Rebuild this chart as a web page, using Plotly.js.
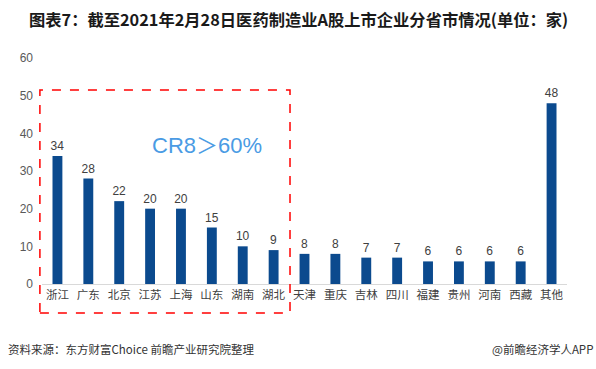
<!DOCTYPE html>
<html><head><meta charset="utf-8">
<script src="https://cdn.plot.ly/plotly-3.0.1.min.js"></script>
<style>html,body{margin:0;padding:0;background:#fff;}#chart{width:596px;height:369px;}</style>
</head><body><div id="chart"></div>
<script>
const provinces = ["浙江","广东","北京","江苏","上海","山东","湖南","湖北","天津","重庆","吉林","四川","福建","贵州","河南","西藏","其他"];
const companies = [34,28,22,20,20,15,10,9,8,8,7,7,6,6,6,6,48];
const yTicks = [0,10,20,30,40,50,60];
const cjk = '"Noto Sans CJK SC", "Noto Sans", sans-serif';

const trace = {
  type: 'bar', x: provinces, y: companies,
  marker: {color: '#0b4a8e'}, width: 0.32,
  text: companies.map(String), textposition: 'outside', constraintext: 'none',
  textfont: {family: 'Arial, "Liberation Sans", sans-serif', size: 12, color: '#404040'},
  cliponaxis: false, hoverinfo: 'skip'
};

const layout = {
  width: 596, height: 369,
  margin: {l: 42, r: 29, t: 58, b: 85},
  paper_bgcolor: '#fff', plot_bgcolor: '#fff',
  showlegend: false, bargap: 0.68,
  xaxis: {
    type: 'category', showgrid: false, showline: true, linecolor: '#d9d9d9', linewidth: 1,
    ticks: '', tickfont: {family: cjk, size: 11.5, color: '#404040'}, fixedrange: true
  },
  yaxis: {
    range: [0, 60], tickvals: yTicks, showgrid: false, zeroline: false, showline: false,
    ticks: '', ticklabelstandoff: 8,
    tickfont: {family: 'Arial, "Liberation Sans", sans-serif', size: 12, color: '#595959'}, fixedrange: true
  },
  shapes: [{
    type: 'rect', xref: 'paper', yref: 'paper', x0: -0.004, x1: 0.4724, y0: -0.128, y1: 0.858,
    line: {color: '#ff0000', width: 1.5, dash: 'dash'}, fillcolor: 'rgba(0,0,0,0)'
  }],
  annotations: [
    {text: '<b>图表7：截至2021年2月28日医药制造业A股上市企业分省市情况(单位：家)</b>', xref: 'paper', yref: 'paper',
     x: 0.5, xshift: -6, y: 1, yshift: 39, xanchor: 'center', yanchor: 'middle', showarrow: false,
     font: {family: cjk, size: 16.3, color: '#1a1a1a'}},
    {text: 'CR8＞60%', xref: 'x', yref: 'y', x: 4.85, y: 36.8, showarrow: false,
     xanchor: 'center', yanchor: 'middle', font: {family: 'Arial, "Noto Sans CJK SC", sans-serif', size: 22, color: '#4a9be4'}},
    {text: '资料来源：东方财富Choice 前瞻产业研究院整理', xref: 'paper', yref: 'paper', x: 0, xshift: -36,
     y: 0, yshift: -65, xanchor: 'left', yanchor: 'middle', showarrow: false,
     font: {family: cjk, size: 11.5, color: '#333'}},
    {text: '@前瞻经济学人APP', xref: 'paper', yref: 'paper', x: 1, xshift: 28,
     y: 0, yshift: -65, xanchor: 'right', yanchor: 'middle', showarrow: false,
     font: {family: cjk, size: 11.5, color: '#333'}}
  ]
};
Plotly.newPlot('chart', [trace], layout, {staticPlot: true, displayModeBar: false});
</script></body></html>
